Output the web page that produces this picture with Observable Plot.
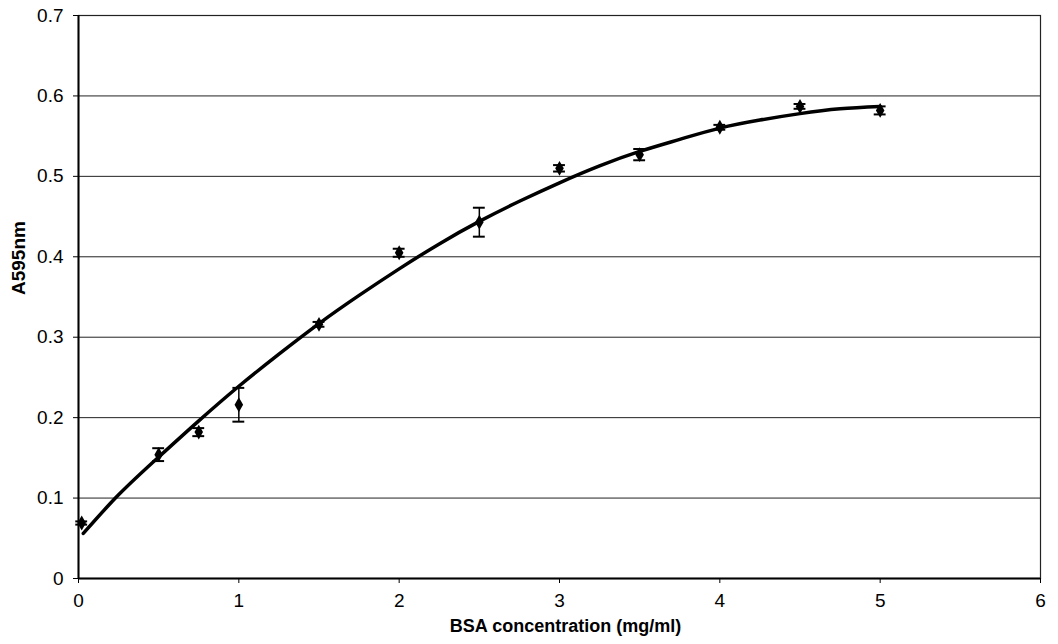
<!DOCTYPE html>
<html>
<head>
<meta charset="utf-8">
<script src="https://cdn.jsdelivr.net/npm/d3@7"></script>
<script src="https://cdn.jsdelivr.net/npm/@observablehq/plot@0.6"></script>
<style>
  html, body { margin: 0; padding: 0; background: #fff; }
  #chart { width: 1058px; height: 644px; }
</style>
</head>
<body>
<div id="chart"></div>
<script>
// Measured points (BSA concentration, mg/ml)
const conc = [0.02, 0.5, 0.75, 1, 1.5, 2, 2.5, 3, 3.5, 4, 4.5, 5];
// Mean absorbance at 595 nm
const absorbance = [0.069, 0.154, 0.182, 0.216, 0.316, 0.405, 0.443, 0.510, 0.527, 0.561, 0.587, 0.582];
// Error (± half-range)
const errors = [0.002, 0.008, 0.005, 0.021, 0.003, 0.005, 0.018, 0.004, 0.007, 0.003, 0.003, 0.005];

// Trend line
const fitX = [0.03, 0.25, 0.5, 0.75, 1, 1.25, 1.5, 1.75, 2, 2.25, 2.5, 2.75, 3, 3.25, 3.5, 3.75, 4, 4.25, 4.5, 4.75, 5];
const fitY = [0.056, 0.104, 0.151, 0.196, 0.239, 0.279, 0.317, 0.352, 0.385, 0.416, 0.444, 0.469, 0.492, 0.513, 0.531, 0.546, 0.560, 0.570, 0.578, 0.584, 0.587];

const xTicks = [0, 1, 2, 3, 4, 5, 6];
const yTicks = [0, 0.1, 0.2, 0.3, 0.4, 0.5, 0.6, 0.7];

const points = conc.map((x, i) => ({x, y: absorbance[i], e: errors[i]}));
const fit = fitX.map((x, i) => ({x, y: fitY[i]}));

const capHalf = 0.037;

const chart = Plot.plot({
  width: 1058,
  height: 644,
  marginLeft: 78,
  marginRight: 18,
  marginTop: 15,
  marginBottom: 66,
  style: {fontFamily: "'Liberation Sans', Arial, sans-serif", fontSize: "19px", color: "#000", background: "#fff"},
  x: {domain: [0, 6]},
  y: {domain: [0, 0.7]},
  marks: [
    Plot.gridY(yTicks.filter(d => d > 0 && d < 0.7), {stroke: "#222", strokeOpacity: 1, strokeWidth: 1}),
    Plot.frame({stroke: "#222", strokeWidth: 1.2}),
    Plot.ruleX([0], {stroke: "#000", strokeWidth: 2}),
    Plot.ruleY([0], {stroke: "#000", strokeWidth: 2}),
    Plot.axisY(yTicks, {tickSize: 5, tickPadding: 10, label: null, tickFormat: d => String(+d.toFixed(1)), fontSize: 19}),
    Plot.axisX(xTicks, {tickSize: 5, tickPadding: 10, label: null, tickFormat: d => String(d), fontSize: 19}),
    Plot.line(fit, {x: "x", y: "y", stroke: "#000", strokeWidth: 3.5, curve: "natural"}),
    Plot.ruleX(points, {x: "x", y1: d => d.y - d.e, y2: d => d.y + d.e, stroke: "#000", strokeWidth: 1.5}),
    Plot.ruleY(points, {y: d => d.y - d.e, x1: d => d.x - capHalf, x2: d => d.x + capHalf, stroke: "#000", strokeWidth: 2}),
    Plot.ruleY(points, {y: d => d.y + d.e, x1: d => d.x - capHalf, x2: d => d.x + capHalf, stroke: "#000", strokeWidth: 2}),
    Plot.dot(points, {x: "x", y: "y", symbol: "diamond", r: 4.5, fill: "#000", stroke: "none"}),
    Plot.text(["A595nm"], {frameAnchor: "left", dx: -60, dy: -2, rotate: -90, fontWeight: "bold", fontSize: 19, fill: "#000"}),
    Plot.text(["BSA concentration (mg/ml)"], {frameAnchor: "bottom", dx: 6, dy: 53, fontWeight: "bold", fontSize: 18, fill: "#000"})
  ]
});
document.getElementById("chart").append(chart);
</script>
</body>
</html>
